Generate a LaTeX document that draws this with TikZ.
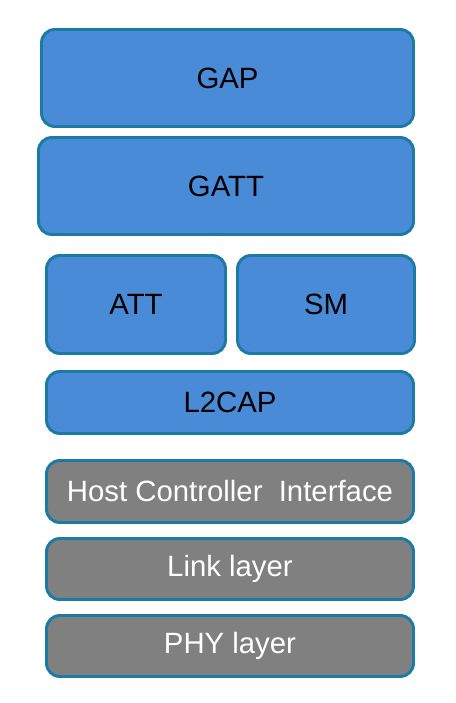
\documentclass[tikz,border=0pt]{standalone}
\usepackage{fontspec}
\setmainfont{Liberation Sans}
\definecolor{boxblue}{HTML}{4A8BD8}
\definecolor{boxedge}{HTML}{1C7BA4}
\definecolor{boxgray}{HTML}{808080}
\begin{document}
\begin{tikzpicture}[x=0.75pt, y=-0.75pt, main/.style = {draw=boxedge, line width=2.2pt, rounded corners=10pt, fill=boxblue, text=black, inner sep=0pt, font=\fontsize{22}{26}\selectfont}, low/.style = {main, fill=boxgray, text=white}]
\useasboundingbox (0,0) rectangle (455,703);
\node[main, minimum width=279pt, minimum height=72.75pt] (1) at (227.5,78) {GAP};
\node[main, minimum width=281.25pt, minimum height=72.75pt] (2) at (226,186) {GATT};
\node[main, minimum width=134.25pt, minimum height=73.5pt] (3) at (136,304.5) {ATT};
\node[main, minimum width=132.75pt, minimum height=73.5pt] (4) at (326,304.5) {SM};
\node[main, minimum width=275.25pt, minimum height=46.5pt] (5) at (230,402.5) {L2CAP};
\node[low, minimum width=275.25pt, minimum height=46.5pt] (6) at (230,491.5) {Host Controller~ Interface};
\node[low, minimum width=275.25pt, minimum height=45.75pt] (7) at (230,569) {Link layer};
\node[low, minimum width=275.25pt, minimum height=45.75pt] (8) at (230,646) {PHY layer};
\end{tikzpicture}
\end{document}
